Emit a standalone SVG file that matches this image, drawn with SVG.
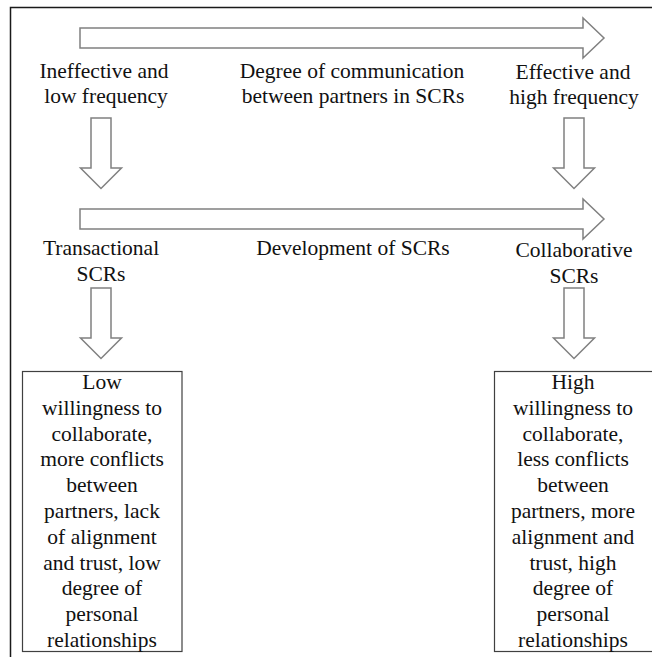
<svg xmlns="http://www.w3.org/2000/svg" width="652" height="657" viewBox="0 0 652 657">
  <style>
    .frame { fill: none; stroke: #1a1a1a; stroke-width: 1.5; }
    .arrow { fill: #ffffff; stroke: #808080; stroke-width: 1.5; stroke-linejoin: miter; }
    .box { fill: #ffffff; stroke: #404040; stroke-width: 1.2; }
    .t { font-size: 21.5px; fill: #111111; text-anchor: middle; }
  </style>
  <rect width="652" height="657" fill="#ffffff"/>
  <!-- outer frame (top and left edges) -->
  <path class="frame" d="M10.5,657 V7.5 H652"/>

  <g id="connectors">
    <!-- communication scale -->
    <polygon id="arrow-communication" class="arrow" points="80,28 583,28 583,18 604,38 583,58 583,48 80,48"/>
    <!-- frequency to relationship type -->
    <polygon id="arrow-left-1" class="arrow" points="91,118 111,118 111,168 121.5,168 101,188.5 80.5,168 91,168"/>
    <polygon id="arrow-right-1" class="arrow" points="564,118 584,118 584,168 594.5,168 574,188.5 553.5,168 564,168"/>
    <!-- development scale -->
    <polygon id="arrow-development" class="arrow" points="80,209 583,209 583,199 604,219 583,239 583,229 80,229"/>
    <!-- relationship type to outcomes -->
    <polygon id="arrow-left-2" class="arrow" points="91,288 111,288 111,338 121.5,338 101,358.5 80.5,338 91,338"/>
    <polygon id="arrow-right-2" class="arrow" points="564,288 584,288 584,338 594.5,338 574,358.5 553.5,338 564,338"/>
  </g>

  <g font-family="Liberation Serif, Tinos, Times New Roman, Times, Noto Serif, DejaVu Serif, FreeSerif, Georgia, serif">
  <g id="label-ineffective" class="t">
    <text x="104" y="78">Ineffective and</text>
    <text x="106" y="103">low frequency</text>
  </g>
  <g id="label-communication" class="t">
    <text x="352" y="78">Degree of communication</text>
    <text x="353" y="103">between partners in SCRs</text>
  </g>
  <g id="label-effective" class="t">
    <text x="573" y="79">Effective and</text>
    <text x="574" y="104">high frequency</text>
  </g>

  <g id="label-transactional" class="t">
    <text x="101" y="255">Transactional</text>
    <text x="101" y="281">SCRs</text>
  </g>
  <g id="label-development" class="t">
    <text x="353" y="255">Development of SCRs</text>
  </g>
  <g id="label-collaborative" class="t">
    <text x="574" y="257">Collaborative</text>
    <text x="574" y="283">SCRs</text>
  </g>

  <g id="box-low">
    <rect class="box" x="22.5" y="371.5" width="159.5" height="280"/>
    <g class="t">
      <text x="102" y="389">Low</text>
      <text x="102" y="414.8">willingness to</text>
      <text x="102" y="440.6">collaborate,</text>
      <text x="102" y="466.4">more conflicts</text>
      <text x="102" y="492.2">between</text>
      <text x="102" y="518">partners, lack</text>
      <text x="102" y="543.8">of alignment</text>
      <text x="102" y="569.6">and trust, low</text>
      <text x="102" y="595.4">degree of</text>
      <text x="102" y="621.2">personal</text>
      <text x="102" y="647">relationships</text>
    </g>
  </g>

  <g id="box-high">
    <rect class="box" x="494.5" y="371.5" width="162" height="280"/>
    <g class="t">
      <text x="573" y="389">High</text>
      <text x="573" y="414.8">willingness to</text>
      <text x="573" y="440.6">collaborate,</text>
      <text x="573" y="466.4">less conflicts</text>
      <text x="573" y="492.2">between</text>
      <text x="573" y="518">partners, more</text>
      <text x="573" y="543.8">alignment and</text>
      <text x="573" y="569.6">trust, high</text>
      <text x="573" y="595.4">degree of</text>
      <text x="573" y="621.2">personal</text>
      <text x="573" y="647">relationships</text>
    </g>
  </g>
  </g>
</svg>
